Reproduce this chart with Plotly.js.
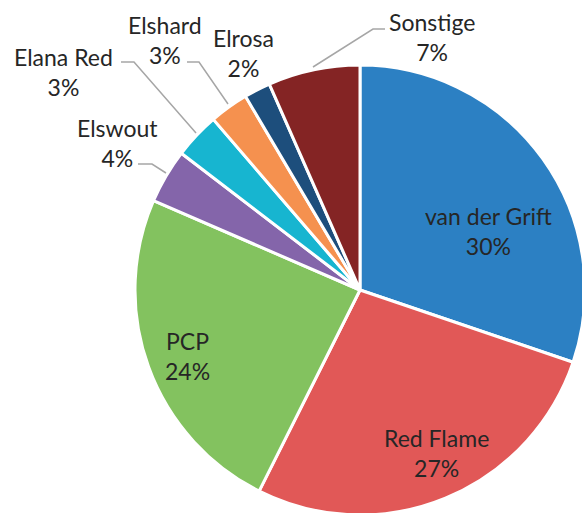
<!DOCTYPE html>
<html>
<head>
<meta charset="utf-8">
<script src="https://cdn.plot.ly/plotly-3.0.1.min.js"></script>
<style>
html,body{margin:0;padding:0;overflow:hidden;background:#fff;width:582px;height:513px;}
#chart{position:absolute;left:0;top:0;width:600px;height:540px;}
</style>
</head>
<body>
<div id="chart"></div>
<script>
// Data
const labels = ["van der Grift", "Red Flame", "PCP", "Elswout", "Elana Red", "Elshard", "Elrosa", "Sonstige"];
const values = [30.2, 27.2, 24.1, 3.9, 3.3, 2.8, 1.9, 6.6];
const colors = ["#2C80C3", "#E15857", "#83C25F", "#8465AA", "#17B5D0", "#F5914F", "#1D4E7C", "#842424"];

// Layout (pixel positions inside a 600x540 plotting div)
const W = 600, H = 540;
const labelPos = {
  "van der Grift": [489, 231],
  "Red Flame": [436, 453],
  "PCP": [187, 356],
  "Elswout": [117, 143],
  "Elana Red": [63, 72],
  "Elshard": [165, 40],
  "Elrosa": [243, 53],
  "Sonstige": [432, 37]
};
const leaders = [
  [[313, 67], [373, 29], [385, 29]],
  [[187, 62], [199, 62], [228, 104]],
  [[121, 62], [134, 62], [196, 133]],
  [[138, 164], [152, 164], [166, 173]]
];
const px = x => x / W, py = y => 1 - y / H;

const total = values.reduce((a, b) => a + b, 0);
const annotations = labels.map((l, i) => ({
  xref: "paper", yref: "paper",
  x: px(labelPos[l][0]), y: py(labelPos[l][1]),
  xanchor: "center", yanchor: "middle",
  text: l + "<br>" + Math.round(values[i] / total * 100) + "%",
  showarrow: false,
  font: {family: "Lato, 'Open Sans', sans-serif", size: 23, color: "#262626"}
}));

const shapes = leaders.map(pts => ({
  type: "path", xref: "paper", yref: "paper",
  path: "M " + pts.map(p => px(p[0]) + "," + py(p[1])).join(" L "),
  line: {color: "#A6A6A6", width: 1.5}
}));

const trace = {
  type: "pie",
  labels: labels,
  values: values,
  sort: false,
  direction: "clockwise",
  rotation: 0,
  textinfo: "none",
  hoverinfo: "label+percent",
  marker: {colors: colors, line: {color: "#ffffff", width: 3}},
  domain: {x: [135 / W, 585 / W], y: [1 - 515 / H, 1 - 65 / H]},
  showlegend: false
};

Plotly.newPlot("chart", [trace], {
  width: W, height: H,
  margin: {l: 0, r: 0, t: 0, b: 0},
  paper_bgcolor: "#ffffff",
  showlegend: false,
  annotations: annotations,
  shapes: shapes
}, {staticPlot: true});
</script>
</body>
</html>
